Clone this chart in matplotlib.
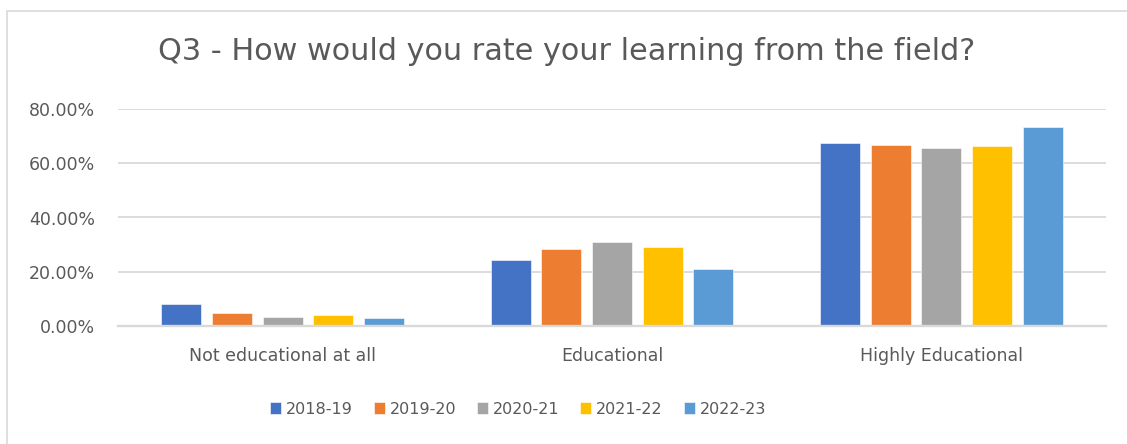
from matplotlib import pyplot as plt
from matplotlib.patches import Rectangle
import numpy as np

categories = ["Not educational at all", "Educational", "Highly Educational"]
seasons = ["2018-19", "2019-20", "2020-21", "2021-22", "2022-23"]
pct_2018_19 = [8.1, 24.4, 67.4]
pct_2019_20 = [4.7, 28.2, 66.7]
pct_2020_21 = [3.2, 30.9, 65.6]
pct_2021_22 = [4.1, 29.2, 66.4]
pct_2022_23 = [3.0, 21.0, 73.3]
yticks = [0, 20, 40, 60, 80]

series = [pct_2018_19, pct_2019_20, pct_2020_21, pct_2021_22, pct_2022_23]
colours = ["#4472C4", "#ED7D31", "#A5A5A5", "#FFC000", "#5B9BD5"]
text_col = "#595959"
grid_col = "#D9D9D9"

W, H = 1127, 444
fig = plt.figure(figsize=(W / 100, H / 100), dpi=100)
ax = fig.add_axes([118 / W, 1 - 325.7 / H, (1106 - 118) / W, (325.7 - 109.3) / H])

x = np.arange(len(categories))
pitch = 0.1538
width = 0.1216
handles = []
for i, vals in enumerate(series):
    b = ax.bar(x + (i - 2) * pitch, vals, width, color=colours[i],
               edgecolor="white", linewidth=0.4, zorder=3, label=seasons[i])
    handles.append(b)

ax.set_xlim(-0.5, 2.5)
ax.set_ylim(0, 80)
ax.set_yticks(yticks)
ax.set_yticklabels(["%.2f%%" % v for v in yticks])
ax.set_xticks(x)
ax.set_xticklabels(categories)
ax.grid(axis="y", color=grid_col, linewidth=1.3, zorder=0)
ax.axhline(0, color=grid_col, linewidth=1.7, zorder=4, clip_on=False)
for s in ax.spines.values():
    s.set_visible(False)
ax.tick_params(axis="both", length=0, labelsize=12.5, labelcolor=text_col)
ax.tick_params(axis="y", pad=16.5)
ax.tick_params(axis="x", pad=15)

fig.text(567 / W, 1 - 52 / H, "Q3 - How would you rate your learning from the field?",
         ha="center", va="center", fontsize=21.8, color=text_col)

fig.legend(handles=handles, labels=seasons, loc="center",
           bbox_to_anchor=(518 / W, 1 - 409 / H), ncol=5, frameon=False,
           fontsize=11.5, labelcolor=text_col, handlelength=0.7, handleheight=0.7,
           handletextpad=0.3, columnspacing=1.3)

# chart area border (runs off the right and bottom edges)
fig.patches.append(Rectangle((7 / W, -0.1), 1.2, (H - 11) / H + 0.1,
                             transform=fig.transFigure, fill=False,
                             edgecolor=grid_col, linewidth=1.2))

plt.savefig("out.png", dpi=100)
